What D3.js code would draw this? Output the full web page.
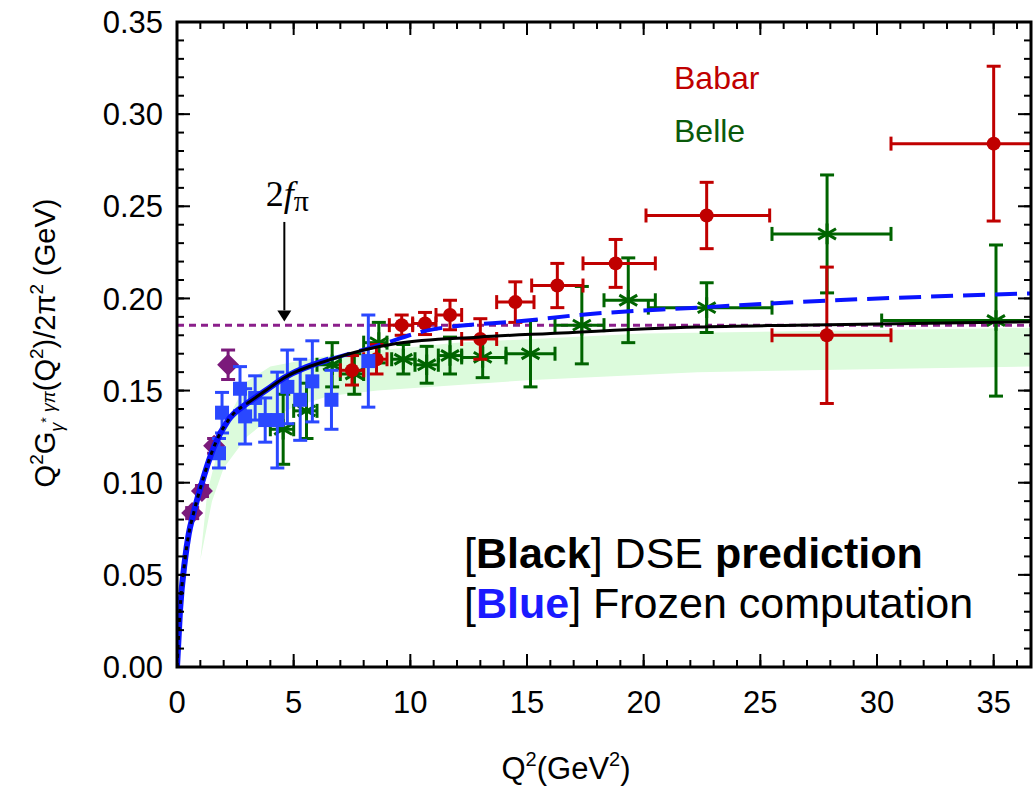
<!DOCTYPE html>
<html>
<head>
<meta charset="utf-8">
<script src="https://cdn.jsdelivr.net/npm/d3@7"></script>
<style>
  body { margin: 0; background: #fff; }
  svg { display: block; font-family: "Liberation Sans", Arial, sans-serif; }
</style>
</head>
<body>
<div id="chart"></div>
<script>
// 数据：[Q2, 值, 误差, Q2下限, Q2上限]
const babar = [
  [7.5, 0.161, 0.008, 7, 8],
  [8.55, 0.167, 0.008, 8, 9],
  [9.63, 0.1855, 0.0055, 9.1, 10.1],
  [10.63, 0.1864, 0.006, 10.1, 11.1],
  [11.7, 0.191, 0.008, 11.1, 12.2],
  [13.0, 0.178, 0.011, 12.2, 13.7],
  [14.5, 0.198, 0.011, 13.7, 15.3],
  [16.3, 0.207, 0.012, 15.2, 17.4],
  [18.8, 0.219, 0.013, 17.4, 20.5],
  [22.7, 0.245, 0.018, 20.1, 25.4],
  [27.85, 0.180, 0.037, 25.5, 30.6],
  [35.0, 0.284, 0.042, 30.6, 40]
];
const belle = [
  [4.55, 0.129, 0.019, 4, 5],
  [5.55, 0.139, 0.015, 5, 6],
  [6.65, 0.164, 0.012, 6, 7],
  [7.6, 0.159, 0.011, 7, 8],
  [8.65, 0.176, 0.011, 8, 9],
  [9.7, 0.167, 0.008, 9.2, 10.2],
  [10.7, 0.164, 0.010, 10.2, 11.2],
  [11.7, 0.169, 0.010, 11.2, 12.2],
  [13.1, 0.168, 0.011, 12.2, 14.1],
  [15.15, 0.170, 0.018, 14.1, 16.2],
  [17.35, 0.1855, 0.021, 16.2, 18.3],
  [19.34, 0.199, 0.023, 18.3, 20.5],
  [22.7, 0.195, 0.0135, 20.2, 25.5],
  [27.86, 0.235, 0.032, 25.5, 30.6],
  [35.1, 0.188, 0.041, 30.2, 40]
];
// CLEO：[Q2, 值, 误差]
const cleo = [
  [1.8, 0.116, 0.008],
  [1.93, 0.138, 0.011],
  [2.7, 0.151, 0.012],
  [2.92, 0.136, 0.015],
  [3.35, 0.146, 0.012],
  [3.78, 0.134, 0.012],
  [4.3, 0.134, 0.026],
  [4.73, 0.152, 0.020],
  [5.28, 0.145, 0.022],
  [5.8, 0.155, 0.022],
  [6.62, 0.145, 0.016],
  [8.2, 0.166, 0.025]
];
// CELLO：[Q2, 值, 误差]
const cello = [
  [0.65, 0.0835, 0.003],
  [1.07, 0.0955, 0.003],
  [1.59, 0.120, 0.004],
  [2.19, 0.164, 0.008]
];
// 曲线读数
const dseCurve = [
  [0, 0], [0.13, 0.031], [0.34, 0.058], [0.5, 0.072], [0.7, 0.083], [1.0, 0.097],
  [1.6, 0.120], [2.2, 0.134], [3.0, 0.143], [3.8, 0.150], [4.6, 0.157],
  [6.5, 0.1665], [9.4, 0.1755], [12.9, 0.179], [16, 0.181], [22.3, 0.1845],
  [26.5, 0.1855], [36.6, 0.1873]
];
const frozenCurve = [
  [0, 0], [0.13, 0.031], [0.34, 0.058], [0.5, 0.072], [0.7, 0.083], [1.0, 0.097],
  [1.6, 0.120], [2.2, 0.134], [3.0, 0.143], [3.8, 0.150], [4.6, 0.157],
  [6.5, 0.1668], [8.5, 0.174], [10.8, 0.1828], [15.0, 0.188], [17.2, 0.191],
  [22.3, 0.195], [26.5, 0.198], [36.6, 0.2027]
];
const bandUpper = [
  [1.0, 0.058], [1.3, 0.095], [2, 0.130], [3, 0.155], [4, 0.163], [6, 0.168],
  [8, 0.171], [12, 0.176], [20, 0.181], [36.6, 0.184]
];
const bandLower = [
  [1.0, 0.058], [1.5, 0.090], [2, 0.108], [3, 0.125], [4, 0.135], [5, 0.141],
  [6.5, 0.147], [8.6, 0.150], [15, 0.1556], [22.3, 0.160], [36.6, 0.163]
];
const fPi2 = 0.1855;
const xTicks = [0, 5, 10, 15, 20, 25, 30, 35];
const yTicks = [0, 0.05, 0.10, 0.15, 0.20, 0.25, 0.30, 0.35];

const W = 1033, H = 792;
const margin = { top: 22, right: 2, bottom: 125, left: 177 };
const width = W - margin.left - margin.right;
const height = H - margin.top - margin.bottom;

const svg = d3.select("#chart").append("svg")
  .attr("width", W).attr("height", H);

const g = svg.append("g")
  .attr("transform", `translate(${margin.left},${margin.top})`);

const x = d3.scaleLinear().domain([0, 36.6]).range([0, width]);
const y = d3.scaleLinear().domain([0, 0.35]).range([height, 0]);

const RED = "#c00000", GREEN = "#006400", BLUE = "#2a48ff", LINEBLUE = "#0a14ff", PURPLE = "#7b1a7b";

// 裁剪区域
g.append("clipPath").attr("id", "clip")
  .append("rect").attr("width", width).attr("height", height);
const plot = g.append("g").attr("clip-path", "url(#clip)");

// 绿色误差带
const bandPoly = bandUpper.concat(bandLower.slice().reverse());
plot.append("path")
  .attr("d", d3.line().x(d => x(d[0])).y(d => y(d[1])).curve(d3.curveLinearClosed)(bandPoly))
  .attr("fill", "#dcfbdc");

// 2fπ 虚线
plot.append("line")
  .attr("x1", 0).attr("x2", width)
  .attr("y1", y(fPi2)).attr("y2", y(fPi2))
  .attr("stroke", "#8b1f8b").attr("stroke-width", 3)
  .attr("stroke-dasharray", "7,5");

const line = d3.line().x(d => x(d[0])).y(d => y(d[1])).curve(d3.curveMonotoneX);

// 误差棒
function errorBars(data, color, withX) {
  const grp = plot.append("g").attr("stroke", color).attr("stroke-width", 3).attr("fill", "none");
  data.forEach(d => {
    const cx = x(d[0]), cy = y(d[1]);
    const y1 = y(d[1] + d[2]), y2 = y(d[1] - d[2]);
    grp.append("line").attr("x1", cx).attr("x2", cx).attr("y1", y1).attr("y2", y2);
    grp.append("line").attr("x1", cx - 7).attr("x2", cx + 7).attr("y1", y1).attr("y2", y1);
    grp.append("line").attr("x1", cx - 7).attr("x2", cx + 7).attr("y1", y2).attr("y2", y2);
    if (withX) {
      const x1 = x(d[3]), x2 = x(d[4]);
      grp.append("line").attr("x1", x1).attr("x2", x2).attr("y1", cy).attr("y2", cy);
      grp.append("line").attr("x1", x1).attr("x2", x1).attr("y1", cy - 7).attr("y2", cy + 7);
      grp.append("line").attr("x1", x2).attr("x2", x2).attr("y1", cy - 7).attr("y2", cy + 7);
    }
  });
}

// CELLO 菱形
errorBars(cello, PURPLE, false);
plot.selectAll(".cello").data(cello).enter().append("path")
  .attr("d", "M0,-11L11,0L0,11L-11,0Z")
  .attr("transform", d => `translate(${x(d[0])},${y(d[1])})`)
  .attr("fill", PURPLE);

// Belle
errorBars(belle, GREEN, true);
plot.selectAll(".belle").data(belle).enter().append("path")
  .attr("d", d3.symbol(d3.symbolAsterisk, 300))
  .attr("transform", d => `translate(${x(d[0])},${y(d[1])})`)
  .attr("fill", "none").attr("stroke", GREEN).attr("stroke-width", 3);

// Babar
errorBars(babar, RED, true);
plot.selectAll(".babar").data(babar).enter().append("circle")
  .attr("cx", d => x(d[0])).attr("cy", d => y(d[1]))
  .attr("r", 7).attr("fill", RED);

// CLEO 方块
errorBars(cleo, BLUE, false);
plot.selectAll(".cleo").data(cleo).enter().append("rect")
  .attr("x", d => x(d[0]) - 7).attr("y", d => y(d[1]) - 7)
  .attr("width", 14).attr("height", 14)
  .attr("fill", BLUE);

// 蓝色曲线：低端实线，高端虚线
const splitQ = 6.5;
plot.append("path")
  .datum(frozenCurve.filter(d => d[0] <= splitQ))
  .attr("d", line).attr("fill", "none")
  .attr("stroke", LINEBLUE).attr("stroke-width", 6);
plot.append("path")
  .datum(frozenCurve.filter(d => d[0] >= splitQ))
  .attr("d", line).attr("fill", "none")
  .attr("stroke", LINEBLUE).attr("stroke-width", 4)
  .attr("stroke-dasharray", "22,10");

// 黑色曲线
plot.append("path")
  .datum(dseCurve.filter(d => d[0] <= 3.0))
  .attr("d", line).attr("fill", "none")
  .attr("stroke", "#000").attr("stroke-width", 3)
  .attr("stroke-dasharray", "4,5");
plot.append("path")
  .datum(dseCurve.filter(d => d[0] >= 3.0))
  .attr("d", line).attr("fill", "none")
  .attr("stroke", "#000").attr("stroke-width", 3);

// 坐标轴（刻度朝内）
const xMinor = d3.range(0, 37, 1);
const yMinor = d3.range(0, 0.351, 0.01);
function tickLines(sel, vals, scale, len, orient) {
  vals.forEach(v => {
    const p = scale(v);
    if (orient === "bottom") sel.append("line").attr("x1", p).attr("x2", p).attr("y1", height).attr("y2", height - len);
    if (orient === "top") sel.append("line").attr("x1", p).attr("x2", p).attr("y1", 0).attr("y2", len);
    if (orient === "left") sel.append("line").attr("x1", 0).attr("x2", len).attr("y1", p).attr("y2", p);
    if (orient === "right") sel.append("line").attr("x1", width).attr("x2", width - len).attr("y1", p).attr("y2", p);
  });
}
const axes = g.append("g").attr("stroke", "#000").attr("stroke-width", 2);
["bottom", "top"].forEach(o => {
  tickLines(axes, xMinor, x, 7, o);
  tickLines(axes, xTicks, x, 13, o);
});
["left", "right"].forEach(o => {
  tickLines(axes, yMinor, y, 7, o);
  tickLines(axes, yTicks, y, 13, o);
});
g.append("rect").attr("width", width).attr("height", height)
  .attr("fill", "none").attr("stroke", "#000").attr("stroke-width", 3);

// 刻度标签
g.selectAll(".xl").data(xTicks).enter().append("text")
  .attr("x", d => x(d)).attr("y", height + 46)
  .attr("text-anchor", "middle").attr("font-size", 31)
  .text(d => d);
g.selectAll(".yl").data(yTicks).enter().append("text")
  .attr("x", -14).attr("y", d => y(d)).attr("dy", "0.36em")
  .attr("text-anchor", "end").attr("font-size", 31)
  .text(d => d.toFixed(2));

// 富文本
function richText(parent, parts, attrs) {
  const t = parent.append("text");
  Object.entries(attrs).forEach(([k, v]) => t.attr(k, v));
  parts.forEach(p => {
    const s = t.append("tspan").text(p.t);
    if (p.dy) s.attr("dy", p.dy);
    if (p.size) s.attr("font-size", p.size);
    if (p.bold) s.attr("font-weight", "bold");
    if (p.italic) s.attr("font-style", "italic");
    if (p.fill) s.attr("fill", p.fill);
  });
  return t;
}

// X 轴标题
richText(svg, [
  { t: "Q" }, { t: "2", size: 20, dy: -13 }, { t: "(GeV", dy: 13 },
  { t: "2", size: 20, dy: -13 }, { t: ")", dy: 13 }
], { x: 566, y: 779, "text-anchor": "middle", "font-size": 31 });

// Y 轴标题
richText(svg, [
  { t: "Q" }, { t: "2", size: 19, dy: -12 }, { t: "G", dy: 12 },
  { t: "γ", size: 18, dy: 8, italic: true }, { t: "*", size: 14, dy: -12 },
  { t: " γπ", size: 18, dy: 4, italic: true },
  { t: "(Q" }, { t: "2", size: 19, dy: -12 }, { t: ")/2π", dy: 12 },
  { t: "2", size: 19, dy: -12 }, { t: " (GeV)", dy: 12 }
], { transform: "translate(55,343) rotate(-90)", "text-anchor": "middle", "font-size": 29 });

// 图例文字
g.append("text").attr("x", x(21.3)).attr("y", 67)
  .attr("font-size", 32).attr("fill", RED).text("Babar");
g.append("text").attr("x", x(21.3)).attr("y", 120)
  .attr("font-size", 32).attr("fill", "#0a5a0a").text("Belle");

richText(g, [
  { t: "[" }, { t: "Black", bold: true }, { t: "] DSE " }, { t: "prediction", bold: true }
], { x: x(12.3), y: 546, "font-size": 43 });
richText(g, [
  { t: "[" }, { t: "Blue", bold: true, fill: "#1a1aff" }, { t: "] Frozen computation" }
], { x: x(12.3), y: 596, "font-size": 43 });

// 2fπ 箭头
const ax = x(4.6);
g.append("line").attr("x1", ax).attr("x2", ax)
  .attr("y1", y(0.2415)).attr("y2", y(0.1935))
  .attr("stroke", "#000").attr("stroke-width", 2);
g.append("path")
  .attr("d", `M${ax - 7},${y(0.1935)}L${ax + 7},${y(0.1935)}L${ax},${y(0.1875)}Z`)
  .attr("fill", "#000");
richText(g, [
  { t: "2" }, { t: "f", italic: true }, { t: "π", size: 30, dy: 5 }
], { x: ax + 3, y: y(0.2415) - 16, "text-anchor": "middle", "font-size": 36,
     "font-family": "Liberation Serif, serif" });
</script>
</body>
</html>
